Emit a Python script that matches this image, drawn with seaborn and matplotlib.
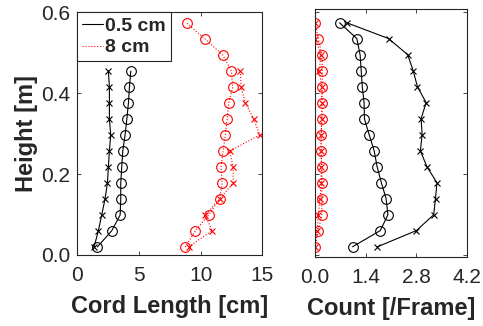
import numpy as np
import pandas as pd
import seaborn as sns
import matplotlib
matplotlib.use("Agg")
import matplotlib.pyplot as plt
from matplotlib.lines import Line2D

# heights of the measurement levels [m]
heights = [0.020, 0.060, 0.099, 0.139, 0.178, 0.218, 0.257, 0.297,
           0.336, 0.376, 0.415, 0.455, 0.494, 0.534, 0.573]

# cord length [cm], 0.5 cm case (only the lower 12 levels are visible)
cord_small_o = [1.65, 2.81, 3.49, 3.54, 3.54, 3.62, 3.70, 3.89, 4.03, 4.16, 4.24, 4.35]
cord_small_x = [1.38, 1.73, 2.00, 2.27, 2.46, 2.54, 2.62, 2.73, 2.62, 2.62, 2.62, 2.54]
# cord length [cm], 8 cm case
cord_big_o = [8.76, 9.57, 10.65, 11.54, 11.73, 11.65, 11.81, 12.00, 12.14, 12.27,
              12.59, 12.49, 11.81, 10.38, 8.89]
cord_big_x = [9.03, 10.92, 10.38, 11.54, 12.63, 12.63, 12.35, 14.78, 14.30, 13.62,
              13.27, 13.22]

# count [/frame]
count_small_o = [1.04, 1.81, 2.02, 1.97, 1.84, 1.72, 1.64, 1.50, 1.37, 1.36,
                 1.31, 1.28, 1.25, 1.16, 0.68]
count_small_x = [1.73, 2.81, 3.29, 3.34, 3.38, 3.10, 2.92, 2.97, 2.94, 3.08,
                 2.84, 2.72, 2.57, 2.04, 0.88]
count_big_o = [0.00, 0.09, 0.19, 0.19, 0.19, 0.19, 0.17, 0.17, 0.19, 0.19,
               0.20, 0.20, 0.19, 0.09, 0.00]
count_big_x = [0.00, 0.065, 0.09, 0.14, 0.17, 0.17, 0.17, 0.17, 0.19, 0.19,
               0.19, 0.11, 0.17, 0.00, 0.00]

left_xticks = [0, 5, 10, 15]
right_xticks = [0.0, 1.4, 2.8, 4.2]
yticks = [0.0, 0.2, 0.4, 0.6]

sns.set_style("ticks")
plt.rcParams['font.family'] = ['Liberation Sans', 'DejaVu Sans']
plt.rcParams['axes.linewidth'] = 0.8

fig = plt.figure(figsize=(4.83, 3.26), dpi=100)
ax1 = fig.add_axes([0.1594, 0.2178, 0.3840, 0.7440])
ax2 = fig.add_axes([0.6522, 0.2107, 0.3137, 0.7617])

RED = (1, 0, 0)


def draw(ax, xs, marker, color, ls, ms):
    n = len(xs)
    d = pd.DataFrame({'x': xs, 'h': heights[:n]})
    sns.lineplot(data=d, x='x', y='h', sort=False, estimator=None, ax=ax,
                 color=color, linestyle=ls, linewidth=0.8, marker=marker,
                 markersize=ms, markerfacecolor='none', markeredgecolor=color,
                 markeredgewidth=0.8)


draw(ax1, cord_small_x, 'x', 'black', '-', 5)
draw(ax1, cord_small_o, 'o', 'black', '-', 7)
draw(ax1, cord_big_x, 'x', RED, ':', 5)
draw(ax1, cord_big_o, 'o', RED, ':', 7)

draw(ax2, count_small_x, 'x', 'black', '-', 5)
draw(ax2, count_small_o, 'o', 'black', '-', 7)
draw(ax2, count_big_x, 'x', RED, ':', 5)
draw(ax2, count_big_o, 'o', RED, ':', 7)

tick_col = '#262626'
for ax in (ax1, ax2):
    ax.tick_params(direction='in', length=3, width=0.6, top=True, right=True,
                   labelsize=15, colors=tick_col)
    ax.tick_params(axis='x', pad=8)
    ax.tick_params(axis='y', pad=5)
    for s in ax.spines.values():
        s.set_visible(True)
        s.set_color(tick_col)
    ax.set_yticks(yticks)

ax1.set_xlim(0, 15)
ax1.set_ylim(0, 0.6)
ax1.set_xticks(left_xticks)
ax1.set_yticklabels(['0.0', '0.2', '0.4', '0.6'])
ax1.set_xlabel('Cord Length [cm]', fontsize=17, fontweight='bold', color=tick_col, labelpad=7)
ax1.set_ylabel('Height [m]', fontsize=17, fontweight='bold', color=tick_col, labelpad=2)

ax2.set_xlim(0, 4.2)
ax2.set_ylim(-0.006, 0.607)
ax2.set_xticks(right_xticks)
ax2.set_xticklabels(['0.0', '1.4', '2.8', '4.2'])
ax2.set_yticklabels([])
ax2.set_xlabel('Count [/Frame]', fontsize=17, fontweight='bold', color=tick_col, labelpad=7)
ax2.set_ylabel('')

handles = [Line2D([], [], color='black', lw=0.8, ls='-'),
           Line2D([], [], color=RED, lw=0.8, ls=':')]
leg = ax1.legend(handles, ['0.5 cm', '8 cm'], loc='upper left', borderaxespad=0,
                 prop={'weight': 'bold', 'size': 14}, frameon=True, fancybox=False,
                 framealpha=1, edgecolor=tick_col, handlelength=1.1,
                 handletextpad=0.1, borderpad=0.25, labelspacing=0.2)
leg.get_frame().set_linewidth(0.8)
leg.set_zorder(10)

fig.savefig('out.png', dpi=100)
